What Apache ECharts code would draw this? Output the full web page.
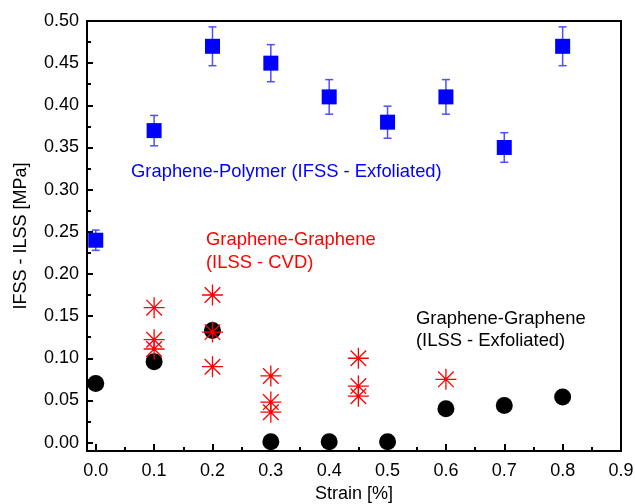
<!DOCTYPE html>
<html>
<head>
<meta charset="utf-8">
<script src="https://cdn.jsdelivr.net/npm/echarts@6/dist/echarts.min.js"></script>
<style>html,body{margin:0;padding:0;background:#fff}#c{width:635px;height:504px}</style>
</head>
<body>
<div id="c"></div>
<script>
// ---- data ----
const strainIFSS = [0.0, 0.1, 0.2, 0.3, 0.4, 0.5, 0.6, 0.7, 0.8];
const ifssExfoliated = [0.24, 0.37, 0.47, 0.45, 0.41, 0.38, 0.41, 0.35, 0.47];
const ifssError = [0.012, 0.018, 0.023, 0.022, 0.0205, 0.019, 0.0205, 0.0175, 0.023];

const strainILSSExf = [0.0, 0.1, 0.2, 0.3, 0.4, 0.5, 0.6, 0.7, 0.8];
const ilssExfoliated = [0.07, 0.096, 0.133, 0.001, 0.001, 0.001, 0.04, 0.044, 0.054];

const strainILSSCVD = [0.1, 0.1, 0.1, 0.2, 0.2, 0.2, 0.3, 0.3, 0.3, 0.45, 0.45, 0.45, 0.6];
const ilssCVD = [0.16, 0.122, 0.111, 0.175, 0.131, 0.09, 0.079, 0.048, 0.036, 0.1, 0.067, 0.055, 0.075];

const xMajorTicks = [0.0, 0.1, 0.2, 0.3, 0.4, 0.5, 0.6, 0.7, 0.8, 0.9];
const xMinorTicks = [0.05, 0.15, 0.25, 0.35, 0.45, 0.55, 0.65, 0.75, 0.85];
const yMajorTicks = [0.0, 0.05, 0.1, 0.15, 0.2, 0.25, 0.3, 0.35, 0.4, 0.45, 0.5];
const yMinorTicks = [0.025, 0.075, 0.125, 0.175, 0.225, 0.275, 0.325, 0.375, 0.425, 0.475];

const xTitle = 'Strain [%]';
const yTitle = 'IFSS - ILSS [MPa]';
const labelPolymer = 'Graphene-Polymer (IFSS - Exfoliated)';
const labelCVD = ['Graphene-Graphene', '(ILSS - CVD)'];
const labelExf = ['Graphene-Graphene', '(ILSS - Exfoliated)'];

// ---- chart ----
const FONT = 'Liberation Sans, Arial, Helvetica, sans-serif';
const X_MIN = -0.015, X_MAX = 0.9, Y_MIN = -0.01, Y_MAX = 0.5;
const zip = (a, b) => a.map((v, i) => [v, b[i]]);

const chart = echarts.init(document.getElementById('c'), null, {renderer: 'canvas'});

const baseX = {
  type: 'value', min: X_MIN, max: X_MAX, position: 'bottom',
  splitLine: {show: false}
};
const baseY = {
  type: 'value', min: Y_MIN, max: Y_MAX, position: 'left',
  splitLine: {show: false}
};

const option = {
  animation: false,
  backgroundColor: '#fff',
  grid: {left: 87, top: 21, right: 14, bottom: 53, containLabel: false, outerBoundsMode: 'none',
    show: true, borderColor: '#000', borderWidth: 2, backgroundColor: 'transparent'},
  xAxis: [
    Object.assign({}, baseX, {
      name: xTitle, nameLocation: 'middle', nameGap: 34,
      nameTextStyle: {fontFamily: FONT, fontSize: 18, color: '#000'},
      axisLine: {show: true, onZero: false, lineStyle: {color: '#000', width: 2}},
      axisTick: {show: true, inside: true, length: 7, lineStyle: {color: '#000', width: 2}, customValues: xMajorTicks},
      axisLabel: {show: true, customValues: xMajorTicks, margin: 11, fontFamily: FONT, fontSize: 18, color: '#000',
        formatter: v => Number(v).toFixed(1)}
    }),
    Object.assign({}, baseX, {
      axisLine: {show: false, onZero: false},
      axisTick: {show: true, inside: true, length: 4, lineStyle: {color: '#000', width: 2}, customValues: xMinorTicks},
      axisLabel: {show: false}
    })
  ],
  yAxis: [
    Object.assign({}, baseY, {
      name: yTitle, nameLocation: 'middle', nameGap: 57, nameRotate: 90,
      nameTextStyle: {fontFamily: FONT, fontSize: 18, color: '#000'},
      axisLine: {show: true, onZero: false, lineStyle: {color: '#000', width: 2}},
      axisTick: {show: true, inside: true, length: 6, lineStyle: {color: '#000', width: 2}, customValues: yMajorTicks},
      axisLabel: {show: true, customValues: yMajorTicks, margin: 8, fontFamily: FONT, fontSize: 18, color: '#000',
        formatter: v => Number(v).toFixed(2)}
    }),
    Object.assign({}, baseY, {
      axisLine: {show: false, onZero: false},
      axisTick: {show: true, inside: true, length: 4, lineStyle: {color: '#000', width: 2}, customValues: yMinorTicks},
      axisLabel: {show: false}
    })
  ],
  series: [
    {
      name: 'ILSS Exfoliated', type: 'scatter', xAxisIndex: 0, yAxisIndex: 0,
      data: zip(strainILSSExf, ilssExfoliated),
      symbol: 'circle', symbolSize: 17,
      itemStyle: {color: '#000', opacity: 1}, z: 2
    },
    {
      name: 'ILSS CVD', type: 'scatter', xAxisIndex: 0, yAxisIndex: 0,
      data: zip(strainILSSCVD, ilssCVD),
      symbol: 'path://M10,0 L10,20 M0,10 L20,10 M2.6,2.6 L17.4,17.4 M2.6,17.4 L17.4,2.6',
      symbolSize: 21,
      itemStyle: {color: 'transparent', borderColor: '#ff0000', borderWidth: 1.3, opacity: 1}, z: 3
    },
    {
      name: 'IFSS error', type: 'custom', xAxisIndex: 0, yAxisIndex: 0,
      data: strainIFSS.map((x, i) => [x, ifssExfoliated[i] - ifssError[i], ifssExfoliated[i] + ifssError[i]]),
      renderItem: function (params, api) {
        const lo = api.coord([api.value(0), api.value(1)]);
        const hi = api.coord([api.value(0), api.value(2)]);
        const hw = 4;
        const st = {stroke: '#4f4fff', lineWidth: 1.5, fill: null};
        return {
          type: 'group',
          children: [
            {type: 'line', shape: {x1: lo[0], y1: lo[1], x2: hi[0], y2: hi[1]}, style: st},
            {type: 'line', shape: {x1: lo[0] - hw, y1: lo[1], x2: lo[0] + hw, y2: lo[1]}, style: st},
            {type: 'line', shape: {x1: hi[0] - hw, y1: hi[1], x2: hi[0] + hw, y2: hi[1]}, style: st}
          ]
        };
      },
      z: 4
    },
    {
      name: 'IFSS Exfoliated', type: 'scatter', xAxisIndex: 0, yAxisIndex: 0,
      data: zip(strainIFSS, ifssExfoliated),
      symbol: 'rect', symbolSize: 15,
      itemStyle: {color: '#0000ff', opacity: 1}, z: 5
    }
  ],
  graphic: [
    {type: 'text', left: 131, top: 163, z: 10,
      style: {text: labelPolymer, font: '18.4px ' + FONT, fill: '#0000ff'}},
    {type: 'text', left: 206, top: 229, z: 10,
      style: {text: labelCVD.join('\n'), font: '18.4px ' + FONT, fill: '#ff0000', lineHeight: 22.5}},
    {type: 'text', left: 416, top: 308, z: 10,
      style: {text: labelExf.join('\n'), font: '18.4px ' + FONT, fill: '#000', lineHeight: 22}}
  ]
};
chart.setOption(option);
</script>
</body>
</html>
